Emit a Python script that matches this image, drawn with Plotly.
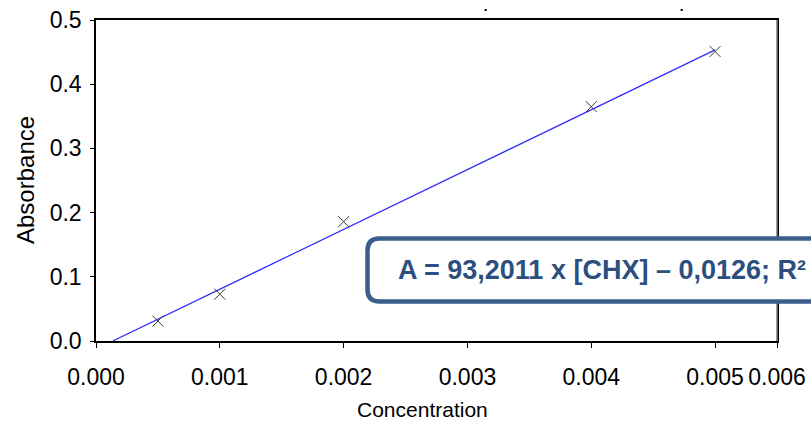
import plotly.graph_objects as go

# Calibration standards
concentration = [0.0005, 0.001, 0.002, 0.004, 0.005]
absorbance = [0.031, 0.073, 0.186, 0.365, 0.451]

# Linear fit reported on the chart: A = slope * [CHX] + intercept
slope = 93.2011
intercept = -0.0126
fit_x = [-intercept / slope, max(concentration)]
fit_y = [slope * x + intercept for x in fit_x]

x_tickvals = [0.0, 0.001, 0.002, 0.003, 0.004, 0.005, 0.0055]
x_ticktext = ["0.000", "0.001", "0.002", "0.003", "0.004", "0.005", "0.006"]
y_tickvals = [0.0, 0.1, 0.2, 0.3, 0.4, 0.5]

equation_text = "A = 93,2011 x [CHX] – 0,0126; R² ="

FONT = "Liberation Sans, Arial, sans-serif"
W, H = 811, 421
ML, MR, MT, MB = 96, 34, 20, 80
PW, PH = W - ML - MR, H - MT - MB


def px_x(px):
    return (px - ML) / PW


def px_y(py):
    return (H - MB - py) / PH


fig = go.Figure()

fig.add_trace(go.Scatter(
    x=fit_x, y=fit_y, mode="lines",
    line=dict(color="#2b2bff", width=1.2),
    showlegend=False, hoverinfo="skip",
))
fig.add_trace(go.Scatter(
    x=concentration, y=absorbance, mode="markers",
    marker=dict(symbol="x-thin", size=11, line=dict(color="#3a3a3a", width=1)),
    showlegend=False,
))

# Rounded callout box holding the regression equation
x0, x1 = px_x(367.5), px_x(900)
y0, y1 = px_y(301.5), px_y(238.5)
rx, ry = 12 / PW, 12 / PH
box_path = (
    f"M {x1},{y1} L {x0 + rx},{y1} Q {x0},{y1} {x0},{y1 - ry} "
    f"L {x0},{y0 + ry} Q {x0},{y0} {x0 + rx},{y0} L {x1},{y0} Z"
)

shapes = [
    # gray right edge of the plot frame
    dict(type="line", xref="paper", yref="paper", x0=1, x1=1, y0=0, y1=1,
         line=dict(color="#7a7a7a", width=1.5), layer="above"),
    dict(type="path", xref="paper", yref="paper", path=box_path,
         fillcolor="white", line=dict(color="#3b5e8c", width=4.5), layer="above"),
]
for ax in (px_x(485.7), px_x(681.7)):
    shapes.append(dict(
        type="rect", xref="paper", yref="paper",
        xsizemode="pixel", ysizemode="pixel",
        xanchor=ax, yanchor=px_y(10),
        x0=-1, x1=1, y0=-1, y1=1,
        fillcolor="black", line=dict(width=0),
    ))

annotations = [
    dict(text=equation_text, xref="paper", yref="paper",
         x=px_x(396), y=px_y(270), xanchor="left", yanchor="middle",
         showarrow=False,
         font=dict(family=FONT, size=27, color="#2c4f7f", weight="bold")),
    dict(text="Concentration", xref="paper", yref="paper",
         x=px_x(422), y=px_y(409), xanchor="center", yanchor="middle",
         showarrow=False, font=dict(family=FONT, size=21, color="black")),
    dict(text="Absorbance", xref="paper", yref="paper",
         x=px_x(25), y=px_y(180), xanchor="center", yanchor="middle",
         textangle=-90, showarrow=False,
         font=dict(family=FONT, size=24, color="black")),
]

fig.update_layout(
    width=W, height=H,
    margin=dict(l=ML, r=MR, t=MT, b=MB, pad=0, autoexpand=False),
    paper_bgcolor="white", plot_bgcolor="white",
    font=dict(family=FONT, size=23, color="black"),
    shapes=shapes, annotations=annotations,
)
fig.update_xaxes(
    range=[0, 0.0055], tickvals=x_tickvals, ticktext=x_ticktext,
    automargin=False,
    showgrid=False, zeroline=False,
    showline=True, linecolor="black", linewidth=1.5, mirror=True,
    ticks="outside", ticklen=5, tickwidth=1, tickcolor="black",
    tickfont=dict(size=23), ticklabelstandoff=10,
)
fig.update_yaxes(
    range=[0, 0.5], tickvals=y_tickvals, tickformat=".1f",
    automargin=False,
    showgrid=False, zeroline=False,
    showline=True, linecolor="black", linewidth=1.5, mirror=True,
    ticks="outside", ticklen=4, tickwidth=1, tickcolor="black",
    tickfont=dict(size=23), ticklabelstandoff=4,
)

fig.write_html("out.html")
